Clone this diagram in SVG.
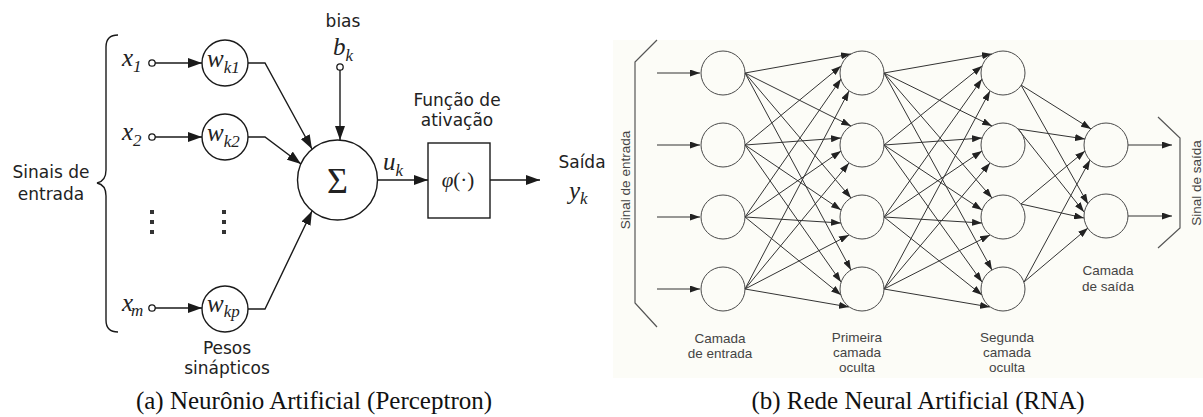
<svg xmlns="http://www.w3.org/2000/svg" width="1203" height="417" viewBox="0 0 1203 417">
  <defs>
    <marker id="headL" markerUnits="userSpaceOnUse" markerWidth="14" markerHeight="10" refX="14" refY="5" orient="auto">
      <path d="M0,0 L14,5 L0,10 z" fill="#1a1a1a"/>
    </marker>
    <marker id="headR" markerUnits="userSpaceOnUse" markerWidth="10" markerHeight="7" refX="10" refY="3.5" orient="auto">
      <path d="M0,0 L10,3.5 L0,7 z" fill="#222"/>
    </marker>
    <style>
      .lbl { font-family: "DejaVu Sans", sans-serif; font-size: 17px; fill: #222; }
      .m { font-family: "Liberation Serif", serif; font-style: italic; font-size: 25px; fill: #222; }
      .sub { font-size: 17px; }
      .ln { fill: none; stroke: #1a1a1a; stroke-width: 1.4; }
      .arrL { fill: none; stroke: #1a1a1a; stroke-width: 1.4; marker-end: url(#headL); }
      .node { fill: #fff; stroke: #1a1a1a; stroke-width: 1.4; }
      .port { fill: #fff; stroke: #1a1a1a; stroke-width: 1.3; }
      .dot { fill: #333; }
      .rn { fill: none; stroke: #4a4a4a; stroke-width: 1; }
      .arrR { fill: none; stroke: #333; stroke-width: 1; marker-end: url(#headR); }
      .br { fill: none; stroke: #555; stroke-width: 1.2; }
      .rl { font-family: "Liberation Sans", Arial, sans-serif; font-size: 13.5px; fill: #444; text-anchor: middle; }
      .cap { font-family: "Liberation Serif", serif; font-size: 25px; fill: #111; text-anchor: middle; }
    </style>
  </defs>

  <rect width="1203" height="417" fill="#fff"/>

  <!-- ===== (a) single artificial neuron ===== -->
  <g id="inputs-brace">
    <path class="ln" d="M118,35 C110,35 106,39 106,47 L106,170 C106,178 102,182 97,183 C102,184 106,188 106,196 L106,320 C106,328 110,332 118,332"/>
    <text class="lbl" x="51" y="178" text-anchor="middle">Sinais de</text>
    <text class="lbl" x="51" y="200" text-anchor="middle">entrada</text>
  </g>

  <g id="x1">
    <text class="m" x="122" y="66">x<tspan class="sub" dy="6">1</tspan></text>
    <circle class="port" cx="152" cy="63" r="3.2"/>
  </g>
  <g id="x2">
    <text class="m" x="122" y="140">x<tspan class="sub" dy="6">2</tspan></text>
    <circle class="port" cx="152" cy="137" r="3.2"/>
  </g>
  <g id="xm">
    <text class="m" x="122" y="311">x<tspan class="sub" dx="-2" dy="5">m</tspan></text>
    <circle class="port" cx="152" cy="308" r="3.2"/>
  </g>

  <g id="ellipsis">
    <rect class="dot" x="150" y="210" width="4" height="4"/>
    <rect class="dot" x="150" y="220" width="4" height="4"/>
    <rect class="dot" x="150" y="230" width="4" height="4"/>
    <rect class="dot" x="222" y="210" width="4" height="4"/>
    <rect class="dot" x="222" y="220" width="4" height="4"/>
    <rect class="dot" x="222" y="230" width="4" height="4"/>
  </g>

  <g id="w1">
    <circle class="node" cx="225" cy="63" r="23"/>
    <text class="m" x="207" y="67">w<tspan class="sub" dy="6">k1</tspan></text>
  </g>
  <g id="w2">
    <circle class="node" cx="225" cy="137" r="23"/>
    <text class="m" x="207" y="141">w<tspan class="sub" dy="6">k2</tspan></text>
  </g>
  <g id="wp">
    <circle class="node" cx="225" cy="309" r="23"/>
    <text class="m" x="207" y="312">w<tspan class="sub" dy="5">kp</tspan></text>
  </g>
  <g id="weights-label">
    <text class="lbl" x="227" y="354" text-anchor="middle">Pesos</text>
    <text class="lbl" x="227" y="374" text-anchor="middle">sinápticos</text>
  </g>

  <g id="bias">
    <text class="lbl" x="343" y="27" text-anchor="middle">bias</text>
    <text class="m" x="333" y="55">b<tspan class="sub" dy="6">k</tspan></text>
    <circle class="port" cx="340" cy="67" r="3.2"/>
  </g>

  <g id="sum">
    <circle class="node" cx="337.5" cy="180" r="40"/>
    <text x="337.5" y="193" text-anchor="middle" font-family="Liberation Serif, serif" font-size="36" fill="#222">Σ</text>
  </g>

  <g id="activation">
    <text class="lbl" x="457" y="106" text-anchor="middle">Função de</text>
    <text class="lbl" x="457" y="126" text-anchor="middle">ativação</text>
    <rect x="428" y="143" width="62" height="75" fill="#fff" stroke="#1a1a1a" stroke-width="1.4"/>
    <text x="458" y="187" text-anchor="middle" font-family="Liberation Serif, serif" font-size="21" fill="#222"><tspan font-style="italic">φ</tspan>(·)</text>
  </g>

  <g id="output">
    <text class="lbl" x="582" y="168" text-anchor="middle">Saída</text>
    <text class="m" x="569" y="199">y<tspan class="sub" dy="5">k</tspan></text>
  </g>

  <g id="neuron-connectors">
    <line class="arrL" x1="155" y1="63" x2="202" y2="63"/>
    <line class="arrL" x1="155" y1="137" x2="202" y2="137"/>
    <line class="arrL" x1="155" y1="308" x2="202" y2="308"/>
    <polyline class="arrL" points="248,63 265,63 312,149"/>
    <polyline class="arrL" points="248,137 265,137 301,164"/>
    <polyline class="arrL" points="248,309 265,309 312,211"/>
    <line class="arrL" x1="340" y1="70" x2="340" y2="140"/>
    <line class="arrL" x1="377.5" y1="180" x2="428" y2="180"/>
    <line class="arrL" x1="490" y1="180" x2="540" y2="180"/>
    <text class="m" x="383" y="170">u<tspan class="sub" dy="6">k</tspan></text>
  </g>

  <!-- ===== (b) multilayer network ===== -->
  <rect x="613" y="40" width="590" height="338" fill="#fcfcf7"/>

  <g id="input-bracket">
    <path class="br" d="M657,40 L635,62 L635,303 L657,327"/>
    <text class="rl" transform="translate(630,180) rotate(-90)" x="0" y="0">Sinal de entrada</text>
  </g>
  <g id="output-bracket">
    <path class="br" d="M1158,117 L1180,138 L1180,228 L1158,248"/>
    <text class="rl" transform="translate(1201,183) rotate(-90)" x="0" y="0">Sinal de saída</text>
  </g>

  <g id="network-connectors">
    <!-- external inputs -->
    <line class="arrR" x1="657" y1="73" x2="700" y2="73"/>
    <line class="arrR" x1="657" y1="145" x2="700" y2="145"/>
    <line class="arrR" x1="657" y1="217" x2="700" y2="217"/>
    <line class="arrR" x1="657" y1="289" x2="700" y2="289"/>
    <!-- input layer -> first hidden layer -->
    <line class="arrR" x1="745" y1="73" x2="851" y2="54"/>
    <line class="arrR" x1="745" y1="73" x2="851" y2="126"/>
    <line class="arrR" x1="745" y1="73" x2="851" y2="198"/>
    <line class="arrR" x1="745" y1="73" x2="851" y2="270"/>
    <line class="arrR" x1="745" y1="145" x2="841" y2="66"/>
    <line class="arrR" x1="745" y1="145" x2="841" y2="138"/>
    <line class="arrR" x1="745" y1="145" x2="841" y2="210"/>
    <line class="arrR" x1="745" y1="145" x2="841" y2="282"/>
    <line class="arrR" x1="745" y1="217" x2="841" y2="79"/>
    <line class="arrR" x1="745" y1="217" x2="841" y2="151"/>
    <line class="arrR" x1="745" y1="217" x2="841" y2="223"/>
    <line class="arrR" x1="745" y1="217" x2="841" y2="295"/>
    <line class="arrR" x1="745" y1="289" x2="849" y2="91"/>
    <line class="arrR" x1="745" y1="289" x2="849" y2="163"/>
    <line class="arrR" x1="745" y1="289" x2="849" y2="235"/>
    <line class="arrR" x1="745" y1="289" x2="849" y2="307"/>
    <!-- first hidden -> second hidden layer -->
    <line class="arrR" x1="884" y1="73" x2="992" y2="54"/>
    <line class="arrR" x1="884" y1="73" x2="992" y2="126"/>
    <line class="arrR" x1="884" y1="73" x2="992" y2="198"/>
    <line class="arrR" x1="884" y1="73" x2="992" y2="270"/>
    <line class="arrR" x1="884" y1="145" x2="982" y2="66"/>
    <line class="arrR" x1="884" y1="145" x2="982" y2="138"/>
    <line class="arrR" x1="884" y1="145" x2="982" y2="210"/>
    <line class="arrR" x1="884" y1="145" x2="982" y2="282"/>
    <line class="arrR" x1="884" y1="217" x2="982" y2="79"/>
    <line class="arrR" x1="884" y1="217" x2="982" y2="151"/>
    <line class="arrR" x1="884" y1="217" x2="982" y2="223"/>
    <line class="arrR" x1="884" y1="217" x2="982" y2="295"/>
    <line class="arrR" x1="884" y1="289" x2="990" y2="91"/>
    <line class="arrR" x1="884" y1="289" x2="990" y2="163"/>
    <line class="arrR" x1="884" y1="289" x2="990" y2="235"/>
    <line class="arrR" x1="884" y1="289" x2="990" y2="307"/>
    <!-- second hidden -> output layer -->
    <line class="arrR" x1="1021" y1="85" x2="1091" y2="129"/>
    <line class="arrR" x1="1021" y1="85" x2="1088" y2="204"/>
    <line class="arrR" x1="1018" y1="129" x2="1085" y2="139"/>
    <line class="arrR" x1="1018" y1="129" x2="1084" y2="212"/>
    <line class="arrR" x1="1021" y1="204" x2="1085" y2="151"/>
    <line class="arrR" x1="1021" y1="204" x2="1084" y2="218"/>
    <line class="arrR" x1="1024" y1="282" x2="1090" y2="160"/>
    <line class="arrR" x1="1024" y1="282" x2="1088" y2="228"/>
    <!-- external outputs -->
    <line class="arrR" x1="1128" y1="145" x2="1172" y2="145"/>
    <line class="arrR" x1="1128" y1="216" x2="1172" y2="216"/>
  </g>

  <g id="input-layer">
    <circle class="rn" cx="723" cy="73" r="22"/>
    <circle class="rn" cx="723" cy="145" r="22"/>
    <circle class="rn" cx="723" cy="217" r="22"/>
    <circle class="rn" cx="723" cy="289" r="22"/>
    <text class="rl" x="720" y="343">Camada</text>
    <text class="rl" x="720" y="358">de entrada</text>
  </g>
  <g id="hidden-layer-1">
    <circle class="rn" cx="862" cy="73" r="22"/>
    <circle class="rn" cx="862" cy="145" r="22"/>
    <circle class="rn" cx="862" cy="217" r="22"/>
    <circle class="rn" cx="862" cy="289" r="22"/>
    <text class="rl" x="857" y="342">Primeira</text>
    <text class="rl" x="857" y="357">camada</text>
    <text class="rl" x="857" y="372">oculta</text>
  </g>
  <g id="hidden-layer-2">
    <circle class="rn" cx="1003" cy="73" r="22"/>
    <circle class="rn" cx="1003" cy="145" r="22"/>
    <circle class="rn" cx="1003" cy="217" r="22"/>
    <circle class="rn" cx="1003" cy="289" r="22"/>
    <text class="rl" x="1007" y="342">Segunda</text>
    <text class="rl" x="1007" y="357">camada</text>
    <text class="rl" x="1007" y="372">oculta</text>
  </g>
  <g id="output-layer">
    <circle class="rn" cx="1106" cy="145" r="22"/>
    <circle class="rn" cx="1106" cy="216" r="22"/>
    <text class="rl" x="1108" y="275">Camada</text>
    <text class="rl" x="1108" y="291">de saída</text>
  </g>

  <g id="captions">
    <text class="cap" x="314" y="409">(a) Neurônio Artificial (Perceptron)</text>
    <text class="cap" x="918" y="409">(b) Rede Neural Artificial (RNA)</text>
  </g>
</svg>
